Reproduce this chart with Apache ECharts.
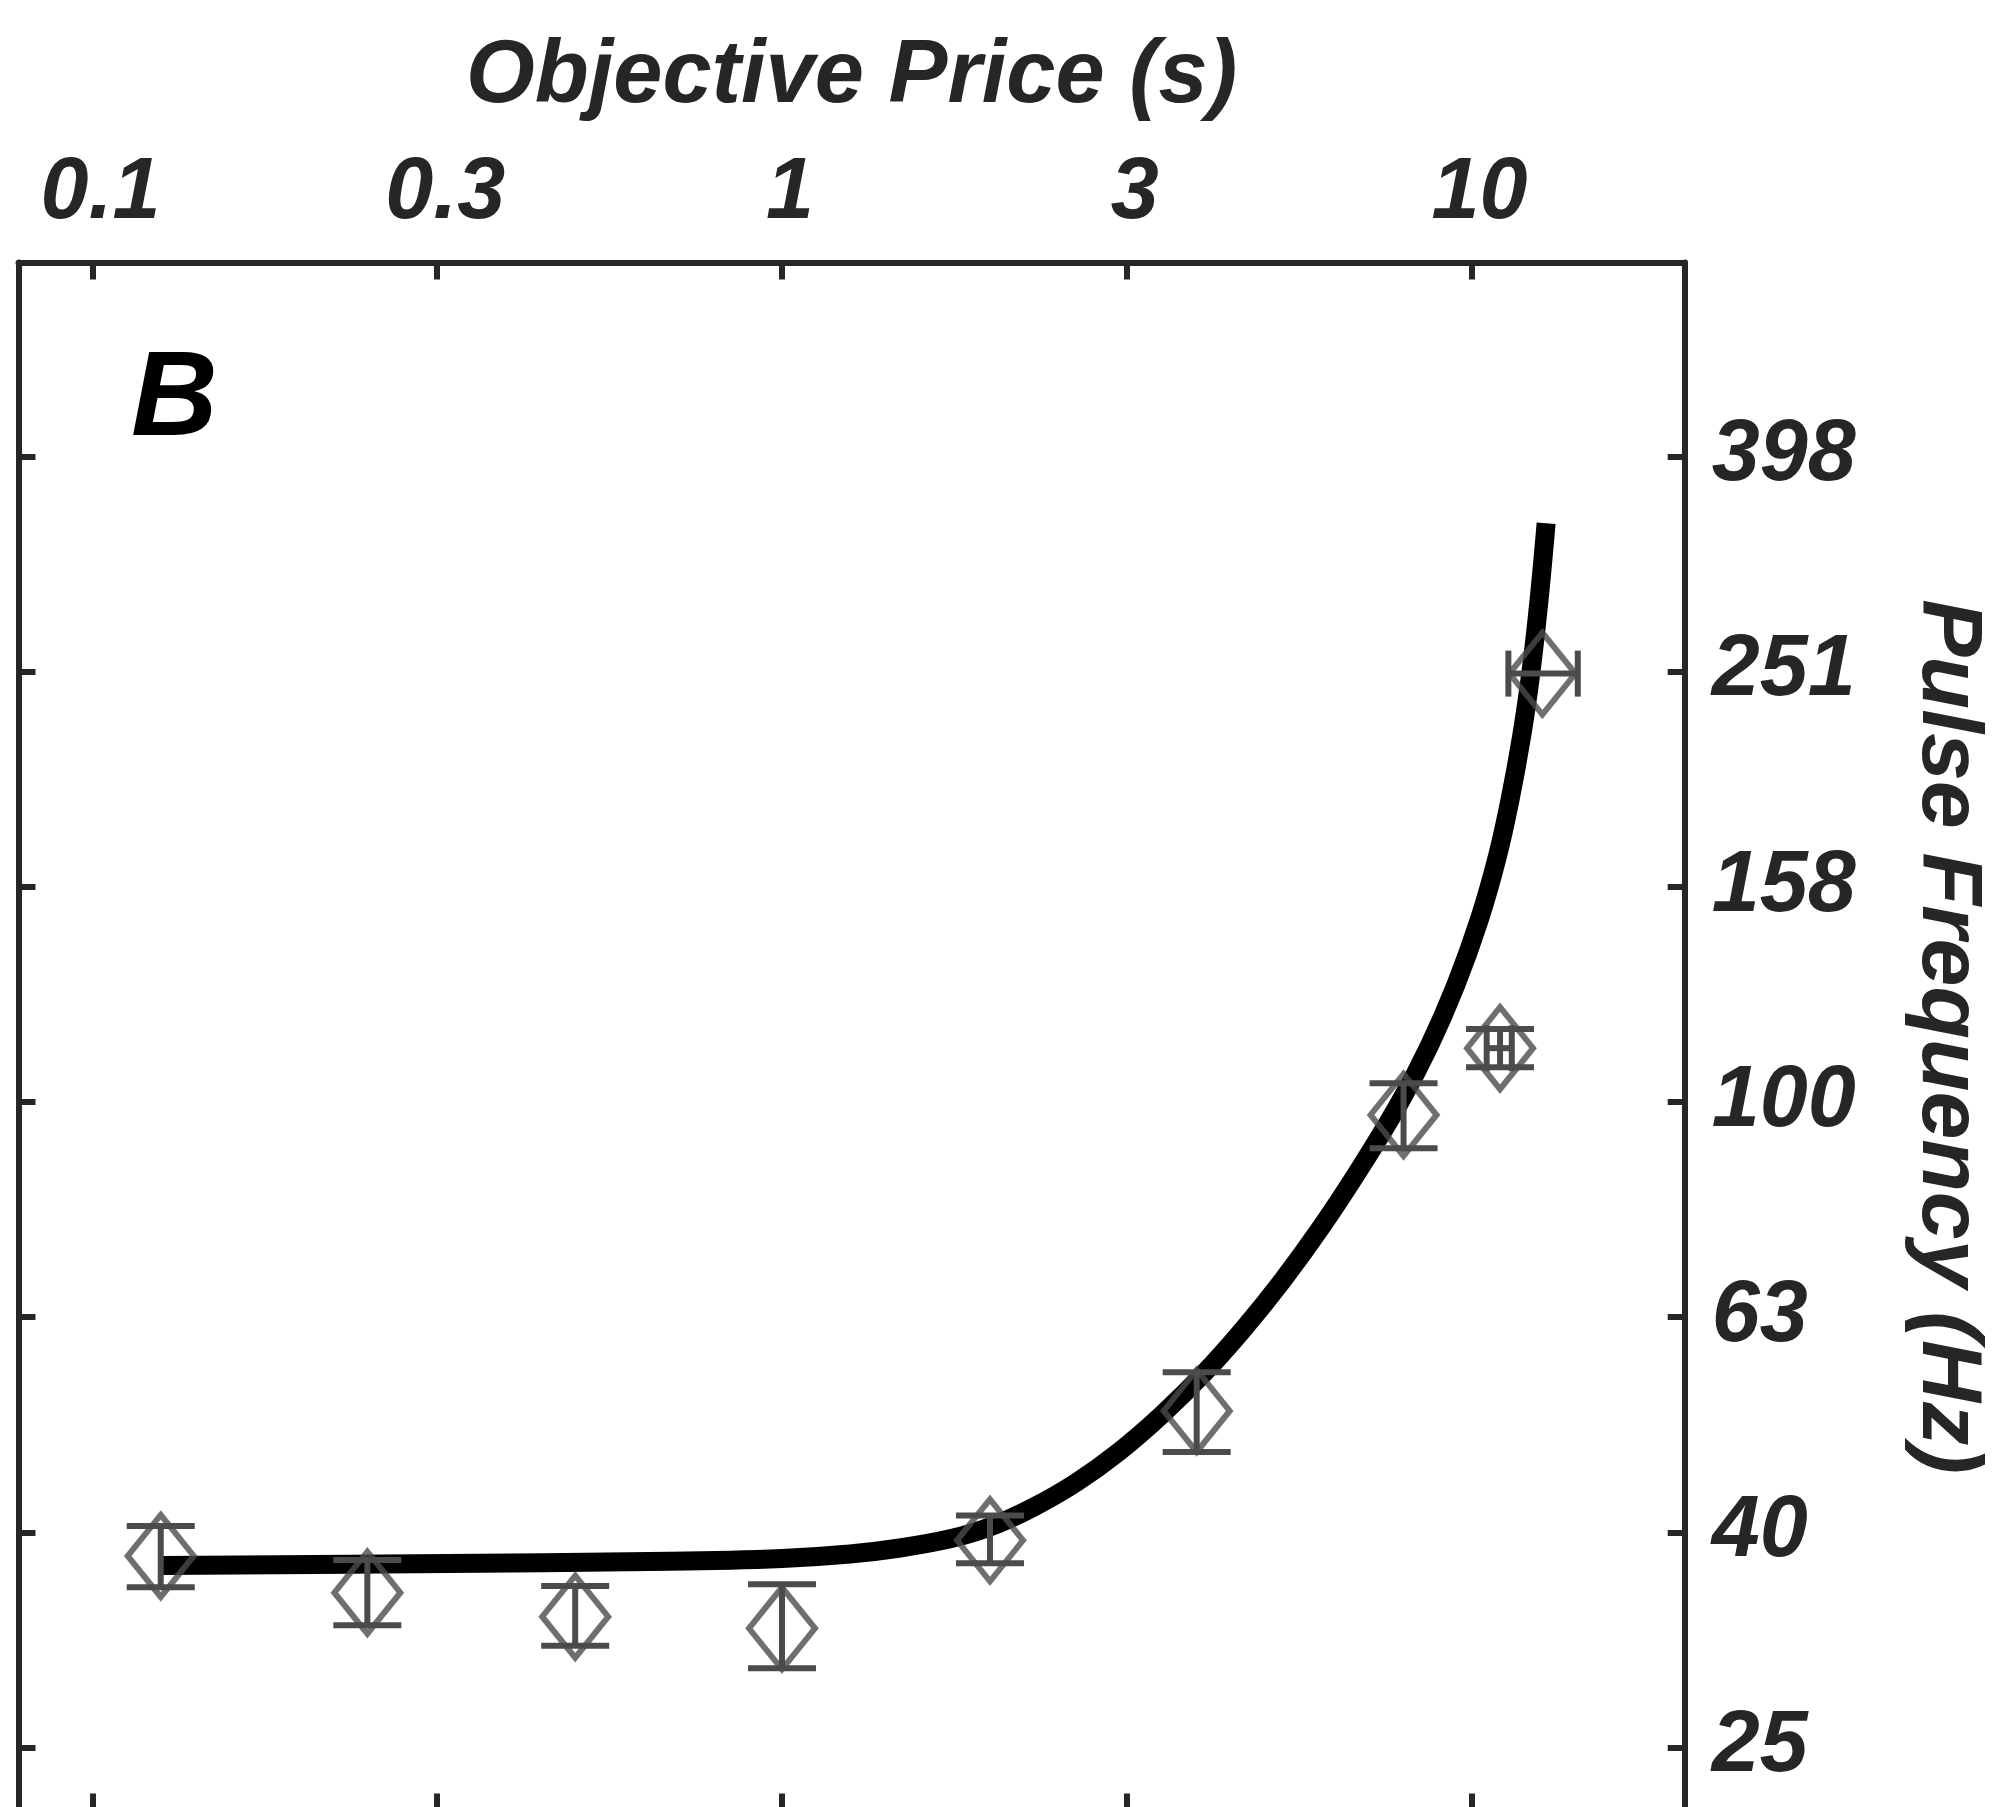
<!DOCTYPE html>
<html>
<head>
<meta charset="utf-8">
<script src="https://cdn.jsdelivr.net/npm/echarts@6/dist/echarts.min.js"></script>
<style>html,body{margin:0;padding:0;background:#fff;}#chart{width:1997px;height:1807px;}</style>
</head>
<body>
<div id="chart"></div>
<script>
// ---- data ----
const xTickValues = [0.1, 0.3162, 1, 3.162, 10];
const xTickLabels = ['0.1', '0.3', '1', '3', '10'];
const yTickValues = [25.12, 39.81, 63.1, 100, 158.5, 251.2, 398.1];
const yTickLabels = ['25', '40', '63', '100', '158', '251', '398'];

const pointPrice = [0.1256, 0.2504, 0.5013, 1.000, 2.003, 3.994, 7.97, 11.0, 12.67];
const pointFreq  = [37.85, 34.99, 33.24, 32.42, 39.14, 51.62, 97.26, 112.2, 250.1];
const freqLow    = [35.40, 32.64, 31.23, 29.77, 37.26, 47.29, 90.55, 107.7, null];
const freqHigh   = [40.36, 37.53, 35.50, 35.63, 41.27, 56.08, 104.1, 116.9, null];
const priceLow   = [null, null, null, null, null, null, null, 10.52, 11.31];
const priceHigh  = [null, null, null, null, null, null, null, 11.44, 14.26];

const curvePrice = [0.1257, 0.2945, 0.688, 1.0, 1.255, 1.483, 1.753, 2.003, 2.312, 2.670, 3.083, 3.557, 4.108, 4.678, 5.330, 6.071, 6.916, 7.877, 8.683, 9.493, 10.26, 10.89, 11.37, 11.83, 12.19, 12.53, 12.83];
const curveFreq  = [37.09, 37.22, 37.42, 37.65, 38.01, 38.50, 39.26, 40.28, 41.99, 44.28, 47.32, 51.22, 56.11, 61.61, 68.37, 76.70, 87.09, 100.0, 112.7, 128.5, 147.6, 168.6, 190.8, 219.3, 250.4, 292.7, 345.0];

// ---- fonts: prefer a narrow face if one is installed ----
function fontAvailable(name) {
  const c = document.createElement('canvas').getContext('2d');
  const s = 'mmmmmmmmmwwwwwlli0123456789';
  let diff = false;
  ['monospace', 'serif'].forEach(function (base) {
    c.font = 'bold italic 72px ' + base;
    const a = c.measureText(s).width;
    c.font = "bold italic 72px '" + name + "', " + base;
    const b = c.measureText(s).width;
    if (a !== b) diff = true;
  });
  return diff;
}
const narrowCandidates = ['Liberation Sans Narrow', 'Noto Sans Condensed', 'Noto Sans SemiCondensed', 'Arial Narrow'];
let narrowName = null;
for (const n of narrowCandidates) { if (fontAvailable(n)) { narrowName = n; break; } }
const regular = "'Liberation Sans', Arial, sans-serif";
const labelFont = narrowName ? "'" + narrowName + "', " + regular : regular;

function measure(text, size, family) {
  const c = document.createElement('canvas').getContext('2d');
  c.font = 'italic bold ' + size + 'px ' + family;
  return c.measureText(text).width;
}
// compromise between the glyph height and the (narrower) glyph width of the reference
function fitSize(text, heightSize, targetWidth) {
  const w = measure(text, 100, labelFont);
  const widthSize = 100 * targetWidth / w;
  return Math.min(heightSize, 0.5 * (heightSize + widthSize));
}
const tickSize = fitSize('398', 94, 131);
const titleSize = fitSize('Objective Price (s)', 96, 705);
const bSize = narrowName ? 125 : 120;

// ---- build ----
const L = Math.log10;
const xTickLogs = xTickValues.map(L);
const yTickLogs = yTickValues.map(L);
const labelFor = (logs, labels) => (v) => {
  for (let i = 0; i < logs.length; i++) if (Math.abs(logs[i] - v) < 1e-6) return labels[i];
  return '';
};

const FRAME = '#262626';
const MARK = '#4b4b4b';

const xRange = [-1.1073, 1.3092];
const yRange = [1.3415, 2.7802];

function xAxisCfg(pos, showLabel) {
  return {
    type: 'value', position: pos, min: xRange[0], max: xRange[1],
    axisLine: { show: true, onZero: false, lineStyle: { color: FRAME, width: 6 } },
    axisTick: { show: true, inside: true, length: 17, customValues: xTickLogs, lineStyle: { color: FRAME, width: 6 } },
    axisLabel: { show: showLabel, customValues: xTickLogs, formatter: labelFor(xTickLogs, xTickLabels),
      margin: 72.5 - 0.545 * tickSize, padding: [0, 0, 0, 16], color: FRAME, fontSize: tickSize,
      fontStyle: 'italic', fontWeight: 'bold', fontFamily: labelFont },
    splitLine: { show: false }
  };
}
function yAxisCfg(pos, showLabel) {
  return {
    type: 'value', position: pos, min: yRange[0], max: yRange[1],
    axisLine: { show: true, onZero: false, lineStyle: { color: FRAME, width: 6 } },
    axisTick: { show: true, inside: true, length: 17, customValues: yTickLogs, lineStyle: { color: FRAME, width: 6 } },
    axisLabel: { show: showLabel, customValues: yTickLogs, formatter: labelFor(yTickLogs, yTickLabels),
      margin: 27, padding: [10, 0, 0, 0], color: FRAME, fontSize: tickSize,
      fontStyle: 'italic', fontWeight: 'bold', fontFamily: labelFont },
    splitLine: { show: false }
  };
}

const xTop = xAxisCfg('top', true);
xTop.name = 'Objective Price (s)';
xTop.nameLocation = 'middle';
xTop.nameGap = 189.5 - 0.55 * titleSize;
xTop.nameTextStyle = { color: FRAME, fontSize: titleSize, fontStyle: 'italic', fontWeight: 'bold', fontFamily: labelFont };

const yRight = yAxisCfg('right', true);
yRight.name = 'Pulse Frequency (Hz)';
yRight.nameLocation = 'middle';
yRight.nameRotate = -90;
yRight.nameGap = 219;
yRight.nameTextStyle = { color: FRAME, fontSize: 86, fontStyle: 'italic', fontWeight: 'bold', fontFamily: regular };

const chart = echarts.init(document.getElementById('chart'), null, { renderer: 'canvas' });
chart.setOption({
  animation: false,
  backgroundColor: '#ffffff',
  title: {
    text: 'B', left: 126, top: 397 - bSize / 2,
    textStyle: { color: '#000', fontSize: bSize, fontStyle: 'italic', fontWeight: 'bold', fontFamily: labelFont }
  },
  grid: { left: 18.5, right: 312.3, top: 262.5, bottom: -3.5, containLabel: false, outerBoundsMode: 'none' },
  xAxis: [xAxisCfg('bottom', false), xTop],
  yAxis: [yAxisCfg('left', false), yRight],
  series: [
    {
      name: 'fit', type: 'line', xAxisIndex: 0, yAxisIndex: 0,
      data: curvePrice.map((p, i) => [L(p), L(curveFreq[i])]),
      showSymbol: false, symbol: 'none', smooth: 0.35,
      lineStyle: { color: '#000', width: 19, cap: 'butt', join: 'round' },
      z: 2
    },
    {
      name: 'errors', type: 'custom', xAxisIndex: 0, yAxisIndex: 0,
      data: pointPrice.map((p, i) => [L(p), L(pointFreq[i])]),
      renderItem: function (params, api) {
        const i = params.dataIndex;
        const lx = L(pointPrice[i]);
        const ly = L(pointFreq[i]);
        const style = { stroke: MARK, lineWidth: 6, fill: null };
        const ch = [];
        if (freqLow[i] != null) {
          const lo = api.coord([lx, L(freqLow[i])]);
          const hi = api.coord([lx, L(freqHigh[i])]);
          ch.push({ type: 'line', shape: { x1: lo[0], y1: lo[1], x2: hi[0], y2: hi[1] }, style });
          ch.push({ type: 'line', shape: { x1: lo[0] - 34, y1: lo[1], x2: lo[0] + 34, y2: lo[1] }, style });
          ch.push({ type: 'line', shape: { x1: hi[0] - 34, y1: hi[1], x2: hi[0] + 34, y2: hi[1] }, style });
        }
        if (priceLow[i] != null) {
          const l = api.coord([L(priceLow[i]), ly]);
          const r = api.coord([L(priceHigh[i]), ly]);
          ch.push({ type: 'line', shape: { x1: l[0], y1: l[1], x2: r[0], y2: r[1] }, style });
          ch.push({ type: 'line', shape: { x1: l[0], y1: l[1] - 23, x2: l[0], y2: l[1] + 23 }, style });
          ch.push({ type: 'line', shape: { x1: r[0], y1: r[1] - 23, x2: r[0], y2: r[1] + 23 }, style });
        }
        return { type: 'group', children: ch };
      },
      z: 3
    },
    {
      name: 'points', type: 'scatter', xAxisIndex: 0, yAxisIndex: 0,
      data: pointPrice.map((p, i) => [L(p), L(pointFreq[i])]),
      symbol: 'diamond', symbolSize: [66, 82],
      itemStyle: { color: 'rgba(0,0,0,0)', borderColor: MARK, borderWidth: 6 },
      z: 4
    }
  ]
});
</script>
</body>
</html>
